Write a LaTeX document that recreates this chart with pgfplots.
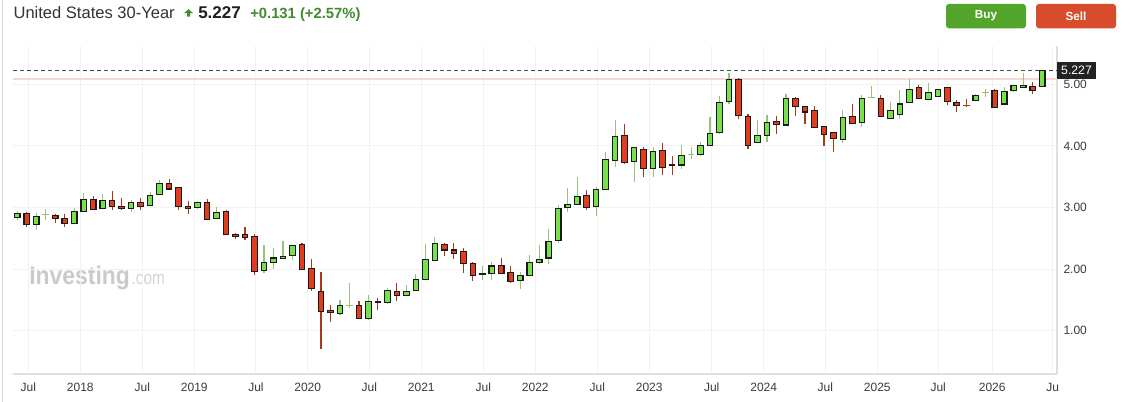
\documentclass[border=0pt]{standalone}
\usepackage{pgfplots}
\pgfplotsset{compat=1.18}
\usepackage{pgfplotstable}
\usepackage{fontspec}
\setmainfont{Liberation Sans}

\definecolor{upfill}{HTML}{78E04A}
\definecolor{dnfill}{HTML}{E23C1E}
\definecolor{upwick}{HTML}{98C27A}
\definecolor{dnwick}{HTML}{A83818}
\definecolor{bodyline}{HTML}{1A1A1A}
\definecolor{gridcol}{HTML}{F2F2F2}
\definecolor{axiscol}{HTML}{DEDEE6}
\definecolor{tickcol}{HTML}{3A3A3A}
\definecolor{pinkline}{HTML}{F7D6D3}
\definecolor{dashcol}{HTML}{4A4A4A}
\definecolor{titlegreen}{HTML}{3F8C2F}
\definecolor{buygreen}{HTML}{52A52A}
\definecolor{sellred}{HTML}{D64C2C}
\definecolor{wm}{HTML}{CACACA}
\definecolor{wmlight}{HTML}{D4D4D4}
\definecolor{titlecol}{HTML}{333333}
\definecolor{pricebox}{HTML}{222222}
\definecolor{borderc}{HTML}{DADADA}

% green (up) candles: k open high low close
\pgfplotstableread{
k O H L C
1 2.84 2.94 2.80 2.91
3 2.73 2.91 2.64 2.86
7 2.74 2.99 2.74 2.94
8 2.94 3.24 2.94 3.13
10 2.99 3.22 2.97 3.12
13 2.99 3.12 2.93 3.08
15 3.04 3.25 3.04 3.20
16 3.21 3.45 3.21 3.39
20 3.00 3.11 2.98 3.08
22 2.82 3.01 2.82 2.92
27 1.98 2.39 1.93 2.11
28 2.11 2.35 2.01 2.18
29 2.18 2.46 2.18 2.21
30 2.22 2.39 2.15 2.39
35 1.28 1.50 1.25 1.41
38 1.20 1.58 1.18 1.48
40 1.46 1.69 1.44 1.66
42 1.57 1.75 1.57 1.64
43 1.66 1.92 1.66 1.83
44 1.83 2.41 1.83 2.16
45 2.14 2.52 2.14 2.42
50 1.92 2.05 1.83 1.93
51 1.93 2.11 1.83 2.05
54 1.82 1.96 1.68 1.90
55 1.90 2.23 1.90 2.11
56 2.11 2.39 2.08 2.16
57 2.18 2.65 2.08 2.45
58 2.47 3.04 2.43 2.99
59 3.00 3.32 2.93 3.05
60 3.05 3.50 3.05 3.18
62 3.02 3.33 2.87 3.29
63 3.29 3.90 3.29 3.78
64 3.77 4.42 3.65 4.16
66 3.75 3.99 3.42 3.98
68 3.64 3.98 3.50 3.91
71 3.69 4.01 3.63 3.85
73 3.86 4.07 3.83 4.01
74 4.01 4.47 4.01 4.20
75 4.22 4.81 4.19 4.71
76 4.72 5.19 4.68 5.08
79 4.06 4.42 4.04 4.17
80 4.17 4.50 4.07 4.38
82 4.34 4.84 4.33 4.77
88 4.11 4.58 4.04 4.46
90 4.38 4.83 4.31 4.77
93 4.45 4.71 4.45 4.58
94 4.51 4.91 4.43 4.68
95 4.71 5.09 4.71 4.92
97 4.76 5.02 4.76 4.87
98 4.80 4.92 4.79 4.92
102 4.74 4.84 4.74 4.82
105 4.68 4.95 4.68 4.89
106 4.90 4.98 4.87 4.98
107 4.95 5.19 4.95 4.98
109 4.97 5.227 4.97 5.227
}\upT

% red (down) candles: k open high low close
\pgfplotstableread{
k O H L C
2 2.91 2.92 2.69 2.73
5 2.87 2.90 2.75 2.82
6 2.82 2.90 2.69 2.74
9 3.13 3.19 2.97 2.97
11 3.12 3.27 2.96 3.02
12 3.02 3.15 2.96 2.99
14 3.08 3.15 2.96 3.02
17 3.39 3.46 3.30 3.30
18 3.33 3.33 2.96 3.02
19 3.02 3.11 2.90 2.99
21 3.08 3.14 2.81 2.81
23 2.94 2.96 2.56 2.56
24 2.56 2.59 2.49 2.53
25 2.56 2.68 2.47 2.52
26 2.53 2.57 1.90 1.96
31 2.40 2.42 2.00 2.00
32 2.01 2.16 1.65 1.69
33 1.64 1.96 0.71 1.31
34 1.33 1.42 1.15 1.30
37 1.41 1.48 1.20 1.20
39 1.47 1.53 1.33 1.46
41 1.64 1.77 1.49 1.57
46 2.40 2.42 2.22 2.31
47 2.31 2.42 2.17 2.26
48 2.29 2.34 1.94 2.09
49 2.09 2.11 1.80 1.90
52 2.06 2.18 1.93 1.93
53 1.95 2.05 1.78 1.80
61 3.20 3.28 2.96 3.00
65 4.17 4.36 3.70 3.73
67 3.94 3.98 3.50 3.64
69 3.93 4.04 3.53 3.65
70 3.70 3.84 3.53 3.69
77 5.08 5.10 4.43 4.50
78 4.48 4.51 3.95 4.01
81 4.39 4.48 4.20 4.35
83 4.77 4.79 4.48 4.64
84 4.64 4.64 4.35 4.55
85 4.58 4.65 4.30 4.30
86 4.32 4.33 4.00 4.19
87 4.22 4.22 3.90 4.12
89 4.48 4.68 4.35 4.37
92 4.77 4.83 4.48 4.48
96 4.95 4.99 4.77 4.77
99 4.95 4.95 4.66 4.72
100 4.71 4.74 4.55 4.66
104 4.90 4.92 4.63 4.63
108 4.97 5.03 4.85 4.90
}\dnT

% doji crosses (open = close): k value high low
\pgfplotstableread{
k V H L
4 2.88 2.97 2.80
36 1.41 1.78 1.37
72 3.86 3.98 3.78
91 4.79 4.97 4.77
103 4.87 4.92 4.80
}\upX

\pgfplotstableread{
k V H L
101 4.66 4.76 4.63
}\dnX

\pgfplotsset{
  wick/.style={forget plot, draw=none, mark=none,
    error bars/.cd, y dir=plus, y explicit, error mark=none,
    error bar style={draw=#1, line width=0.85pt, line cap=butt}},
  bodyout/.style={forget plot, draw=none, mark=none,
    error bars/.cd, y dir=plus, y explicit, error mark=none,
    error bar style={draw=bodyline, line width=4.95pt, line cap=butt}},
  bodyin/.style={forget plot, draw=none, mark=none,
    error bars/.cd, y dir=plus, y explicit, error mark=none,
    error bar style={draw=#1, line width=3.3pt, line cap=butt}},
  crossbar/.style={forget plot, draw=none, mark=none,
    error bars/.cd, x dir=both, x fixed=0.36, error mark=none,
    error bar style={draw=#1, line width=0.85pt, line cap=butt}},
}

\begin{document}
\begin{tikzpicture}[x=1pt,y=1pt]
\useasboundingbox (0,0) rectangle (849,301.5);
\fill[white] (0,0) rectangle (849,301.5);
\draw[draw=borderc, line width=1pt] (2,0) -- (2,301.5);

% watermark
\node[anchor=base west, inner sep=0, text=wm, font=\bfseries\fontsize{19.1}{21}\selectfont] at (21.75,87.75) {\scalebox{0.9}[1]{Investing}};
\node[anchor=base west, inner sep=0, text=wmlight, font=\fontsize{14.3}{16}\selectfont] at (98.6,87.75) {\scalebox{0.8}[1]{.com}};

\begin{axis}[
  at={(9.75pt,21pt)}, anchor=south west,
  scale only axis, width=783pt, height=246pt,
  xmin=0.547, xmax=110.56, ymin=0.298, ymax=5.622,
  axis x line*=bottom, axis y line*=right,
  axis line style={draw=axiscol, line width=0.9pt},
  xtick={2.16,7.64,14.17,19.65,26.15,31.60,38.09,43.57,50.10,55.58,62.12,67.59,74.17,79.65,86.14,91.62,98.04,103.73,110.10},
  xticklabels={Jul,2018,Jul,2019,Jul,2020,Jul,2021,Jul,2022,Jul,2023,Jul,2024,Jul,2025,Jul,2026,Ju},
  ytick={1,2,3,4,5},
  grid=major, major grid style={draw=gridcol, line width=0.75pt},
  major tick length=0pt,
  ticklabel style={font=\fontsize{9}{10}\selectfont, text=tickcol},
  xticklabel style={inner sep=0pt, anchor=north, yshift=-6.5pt},
  yticklabel style={inner sep=0pt, anchor=west, xshift=4.7pt},
  /pgf/number format/fixed, /pgf/number format/fixed zerofill,
  /pgf/number format/precision=2, /pgf/number format/assume math mode=true,
]
% reference lines
\addplot[forget plot, draw=pinkline, line width=1.5pt] coordinates {(0.547,5.087) (110.56,5.087)};
\addplot[forget plot, draw=dashcol, line width=0.75pt, dash pattern=on 3pt off 2.25pt] coordinates {(0.547,5.227) (110.56,5.227)};

% wicks
\addplot[wick=upwick] table[x=k, y=L, y error plus expr={\thisrow{H}-\thisrow{L}}] {\upT};
\addplot[wick=dnwick] table[x=k, y=L, y error plus expr={\thisrow{H}-\thisrow{L}}] {\dnT};
\addplot[wick=upwick] table[x=k, y=L, y error plus expr={\thisrow{H}-\thisrow{L}}] {\upX};
\addplot[wick=dnwick] table[x=k, y=L, y error plus expr={\thisrow{H}-\thisrow{L}}] {\dnX};
\addplot[crossbar=upwick] table[x=k, y=V] {\upX};
\addplot[crossbar=dnwick] table[x=k, y=V] {\dnX};

% bodies: outline
\addplot[bodyout] table[x=k, y expr={\thisrow{O}-0.009}, y error plus expr={\thisrow{C}-\thisrow{O}+0.018}] {\upT};
\addplot[bodyout] table[x=k, y expr={\thisrow{C}-0.009}, y error plus expr={\thisrow{O}-\thisrow{C}+0.018}] {\dnT};
% bodies: fill
\addplot[bodyin=upfill] table[x=k, y expr={\thisrow{O}+0.009}, y error plus expr={max(\thisrow{C}-\thisrow{O}-0.018,0)}] {\upT};
\addplot[bodyin=dnfill] table[x=k, y expr={\thisrow{C}+0.009}, y error plus expr={max(\thisrow{O}-\thisrow{C}-0.018,0)}] {\dnT};
\end{axis}

% current price box
\fill[pricebox] (792.75,242.0) rectangle (822,255.2);
\node[text=white, inner sep=0, font=\fontsize{9.2}{10}\selectfont] at (807.4,248.6) {5.227};

% title
\node[anchor=base west, inner sep=0, text=titlecol, font=\fontsize{12.4}{14}\selectfont] at (10,287.5) {United States 30-Year};
\fill[titlegreen] (140.3,289) -- (140.3,291.6) -- (138,291.6) -- (141.4,294.6) -- (144.8,291.6) -- (142.5,291.6) -- (142.5,289) -- cycle;
\node[anchor=base west, inner sep=0, text=black!88, font=\bfseries\fontsize{12.75}{14}\selectfont] at (148.5,287.5) {5.227};
\node[anchor=base west, inner sep=0, text=titlegreen, font=\bfseries\fontsize{11.1}{13}\selectfont] at (187.5,287.5) {+0.131 (+2.57\%)};

% buttons
\fill[buygreen, rounded corners=2.25pt] (709.5,280.25) rectangle (769.5,298.5);
\node[text=white, font=\bfseries\fontsize{8.8}{10}\selectfont] at (739.5,289.4) {Buy};
\fill[sellred, rounded corners=2.25pt] (777,280.25) rectangle (837,298.5);
\node[text=white, font=\bfseries\fontsize{8.8}{10}\selectfont] at (807,289.4) {Sell};
\end{tikzpicture}
\end{document}
